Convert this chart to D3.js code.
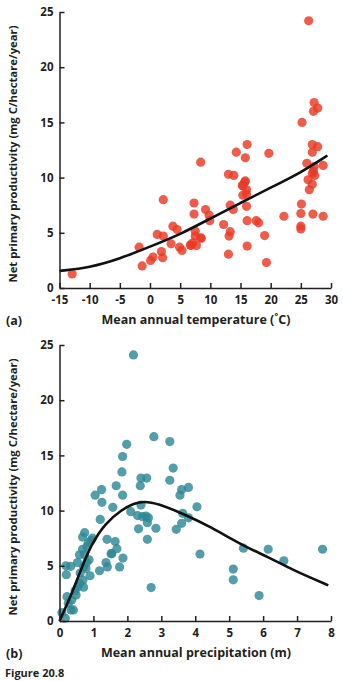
<!DOCTYPE html>
<html>
<head>
<meta charset="utf-8">
<script src="https://cdn.jsdelivr.net/npm/d3@7"></script>
<style>
  body { margin: 0; background: #fff; }
  svg { display: block; }
  .ttl { font-family: "Open Sans", sans-serif; font-weight: 700; fill: #231f20; }
  .axis text { font-family: "Open Sans", sans-serif; font-weight: 700; font-size: 11.5px; fill: #231f20; }
  .axis path, .axis line { stroke: #231f20; stroke-width: 1.5; }
</style>
</head>
<body>
<svg id="chart" width="343" height="681"></svg>
<script>
// (a) temperature vs NPP
var tempTicks = [-15, -10, -5, 0, 5, 10, 15, 20, 25, 30];
var nppTicks = [0, 5, 10, 15, 20, 25];
var tempX = [-12.9, -1.8, -1.3, 0.1, 0.5, 1.2, 1.9, 2.1, 2.2, 2.2, 3.5, 3.8, 4.5, 4.9, 5.3, 6.8, 7.1, 7.3, 7.3, 7.5,
  7.5, 7.7, 8.5, 8.4, 9.2, 9.8, 9.9, 12.2, 13.0, 13.9, 13.3, 13.8, 13.3, 13.1, 13.0, 15.4, 15.8, 16.0, 15.4, 16.0,
  16.0, 16.1, 16.1, 17.6, 18.0, 19.0, 19.3, 22.2, 25.1, 25.0, 25.0, 25.0, 26.2, 26.4, 26.9, 26.9, 27.1, 27.3, 27.0, 28.7,
  28.7, 26.0, 14.3, 15.8, 16.1, 19.7, 26.3, 25.2, 27.2, 27.1, 27.8, 26.9, 27.8, 26.9, 27.2, 15.7, 15.3, 6.7, 8.4];
var tempY = [1.27, 3.7, 2.0, 2.5, 2.8, 4.85, 3.3, 2.75, 4.7, 8.0, 4.0, 5.6, 5.3, 3.7, 3.4, 3.85, 4.1, 7.7, 6.7, 5.15,
  4.7, 3.85, 4.5, 11.4, 7.1, 6.6, 6.1, 5.75, 10.3, 10.2, 7.5, 7.1, 5.1, 4.7, 3.06, 9.25, 9.7, 8.9, 8.4, 8.5,
  7.4, 6.1, 3.8, 6.1, 5.9, 4.75, 2.3, 6.5, 7.6, 6.75, 5.6, 5.35, 9.8, 8.9, 9.4, 10.4, 10.6, 10.2, 6.7, 11.1,
  6.5, 11.3, 12.3, 11.8, 13.0, 12.2, 24.2, 15.0, 16.8, 16.0, 16.3, 13.0, 12.8, 12.3, 11.0, 9.6, 9.3, 3.9, 4.55];
// fitted curve
var tempFitX = [-15, -10, -5, 0, 5, 10, 15, 20, 25, 29.4];
var tempFitY = [1.55, 1.85, 2.65, 3.75, 4.85, 6.3, 7.7, 9.1, 10.45, 12.0];

// (b) precipitation vs NPP
var precTicks = [0, 1, 2, 3, 4, 5, 6, 7, 8];
var precX = [2.18, 2.78, 3.25, 1.98, 1.86, 1.84, 2.4, 2.57, 3.35, 3.25, 1.67, 2.38, 1.24, 3.6, 3.8, 1.05, 1.86, 3.55,
  4.05, 1.57, 2.4, 2.1, 2.3, 2.45, 2.55, 2.62, 2.59, 2.33, 2.84, 2.59, 3.44, 3.6, 3.63, 3.8, 4.14, 1.25, 1.2, 0.97,
  0.74, 0.68, 0.85, 0.93, 0.68, 0.81, 0.59, 0.74, 0.87, 0.53, 0.8, 0.71, 0.78, 0.61, 0.33, 0.19, 0.2, 0.9, 1.18,
  1.4, 1.37, 1.41, 1.52, 1.64, 1.69, 1.77, 1.87, 0.69, 0.59, 0.54, 0.71, 0.46, 0.49, 0.22, 0.36, 0.26, 0.34, 0.41,
  0.17, 0.07, 2.7, 5.12, 5.12, 5.42, 6.15, 6.61, 5.88, 7.75, 1.54];
var precY = [24.1, 16.7, 16.25, 16.0, 14.9, 13.5, 12.95, 12.95, 13.85, 12.75, 12.25, 12.25, 11.9, 11.9, 12.1, 11.4, 11.4, 11.4,
  10.35, 10.3, 10.5, 9.9, 9.55, 9.45, 9.5, 9.35, 8.9, 8.35, 8.4, 7.4, 8.3, 8.85, 9.75, 9.35, 6.06, 10.75, 9.2, 7.5,
  8.0, 7.6, 7.1, 7.3, 6.5, 6.75, 6.0, 6.0, 5.55, 5.3, 5.3, 4.9, 4.75, 4.35, 4.95, 5.0, 4.2, 4.1, 4.55,
  7.4, 5.3, 4.9, 6.1, 7.2, 6.55, 4.9, 5.7, 3.7, 3.4, 3.1, 3.06, 2.75, 2.35, 2.2, 1.9, 1.6, 1.0, 1.0,
  0.25, 0.75, 3.03, 4.7, 3.73, 6.6, 6.5, 5.45, 2.3, 6.5, 6.1];
var precFitX = [0, 0.37, 0.66, 0.95, 1.35, 1.84, 2.2, 2.47, 2.9, 3.65, 4.44, 5.42, 6.15, 6.89, 7.38, 7.92];
var precFitY = [0, 2.5, 4.9, 7.0, 8.85, 10.1, 10.65, 10.85, 10.65, 9.7, 8.55, 6.8, 5.8, 4.6, 3.95, 3.23];

var svg = d3.select("#chart");
svg.append("rect").attr("width", 343).attr("height", 681).attr("fill", "#fff");

function panel(opt) {
  var x = d3.scaleLinear().domain(opt.xDomain).range([59.5, 331]);
  var y = d3.scaleLinear().domain([0, 25]).range([opt.bottom, opt.bottom - 276]);

  var pts = opt.xs.map(function (d, i) { return [d, opt.ys[i]]; });
  svg.append("g").selectAll("circle").data(pts).enter().append("circle")
    .attr("cx", function (d) { return x(d[0]); })
    .attr("cy", function (d) { return y(d[1]); })
    .attr("r", 4.6)
    .attr("fill", opt.color)
    .attr("fill-opacity", 0.82);

  var fit = opt.fitX.map(function (d, i) { return [d, opt.fitY[i]]; });
  svg.append("path").datum(fit)
    .attr("fill", "none")
    .attr("stroke", "#111")
    .attr("stroke-width", 2.6)
    .attr("d", d3.line()
      .x(function (d) { return x(d[0]); })
      .y(function (d) { return y(d[1]); })
      .curve(d3.curveBasis));

  svg.append("g").attr("class", "axis")
    .attr("transform", "translate(0," + opt.bottom + ")")
    .call(d3.axisBottom(x).tickValues(opt.xTicks).tickSizeInner(-5).tickSizeOuter(0).tickPadding(8)
      .tickFormat(function (d) { return String(d); }));

  svg.append("g").attr("class", "axis")
    .attr("transform", "translate(59.5,0)")
    .call(d3.axisLeft(y).tickValues(nppTicks).tickSizeInner(-5).tickSizeOuter(0).tickPadding(6));

  svg.append("text").attr("class", "ttl")
    .attr("x", 196).attr("y", opt.bottom + 36)
    .attr("text-anchor", "middle").attr("font-size", 12.5)
    .text(opt.xTitle);

  svg.append("text").attr("class", "ttl")
    .attr("transform", "translate(16.5," + (opt.bottom - 134) + ") rotate(-90)")
    .attr("text-anchor", "middle").attr("font-size", 11.3)
    .text("Net primary productivity (mg C/hectare/year)");

  svg.append("text").attr("class", "ttl")
    .attr("x", 6).attr("y", opt.bottom + 37)
    .attr("font-size", 12.5)
    .text(opt.tag);
}

panel({ xDomain: [-15, 30], bottom: 288, xs: tempX, ys: tempY, fitX: tempFitX, fitY: tempFitY,
  xTicks: tempTicks, color: "#e63a26", xTitle: "Mean annual temperature (\u02DAC)", tag: "(a)" });

panel({ xDomain: [0, 8], bottom: 621, xs: precX, ys: precY, fitX: precFitX, fitY: precFitY,
  xTicks: precTicks, color: "#2f8795", xTitle: "Mean annual precipitation (m)", tag: "(b)" });

svg.append("text").attr("class", "ttl")
  .attr("x", 5).attr("y", 677)
  .attr("font-size", 11).attr("fill", "#333")
  .text("Figure 20.8");
</script>
</body>
</html>
